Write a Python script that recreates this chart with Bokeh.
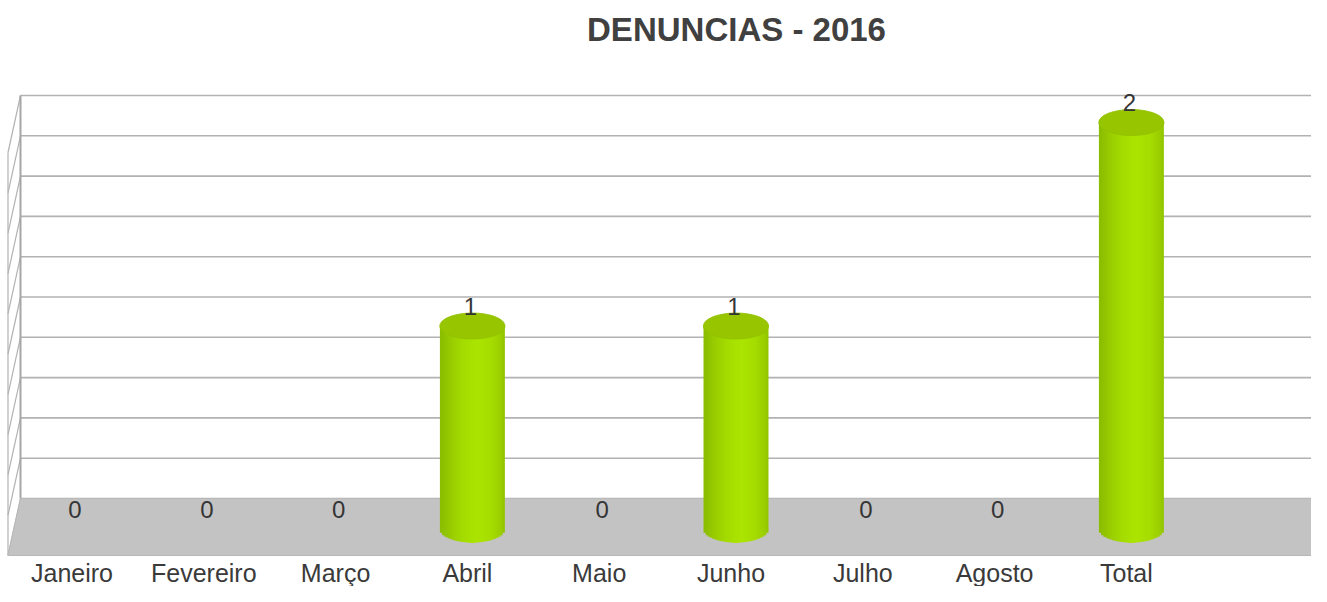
from bokeh.plotting import figure
from bokeh.models import Range1d
from bokeh.core.properties import value
from bokeh.embed import file_html
from bokeh.resources import INLINE

# ---------------- data ----------------
title_text = "DENUNCIAS - 2016"
categories = ["Janeiro", "Fevereiro", "Março", "Abril", "Maio",
              "Junho", "Julho", "Agosto", "Total"]
counts = [0, 0, 0, 1, 0, 1, 0, 0, 2]
grid_values = [0.0, 0.2, 0.4, 0.6, 0.8, 1.0, 1.2, 1.4, 1.6, 1.8, 2.0]

# ---------------- geometry (pixel mapping) ----------------
W, H = 1311, 586
SLOT_PX = 131.8      # pixels per category slot
UNIT_PX = 203.5      # pixels per value unit (bars)
X0_REF = 5.6         # x of slot 0 left edge
BASE_REF = 529.0     # y of bar baseline
BACK_BASE_REF = 498.0
BACK_UNIT_PX = 201.5
DEPTH_DX = 12.5      # side wall slant
DEPTH_DY = 57.0


def X(ref):
    return (ref - X0_REF) / SLOT_PX


def Y(ref):
    return (BASE_REF - ref) / UNIT_PX


def back_y(v):
    return Y(BACK_BASE_REF - BACK_UNIT_PX * v)


p = figure(width=W, height=H,
           x_range=Range1d(X(0), X(W)),
           y_range=Range1d(Y(H), Y(0)),
           output_backend="svg", toolbar_location=None,
           x_axis_location=None, y_axis_location=None,
           min_border=0)
p.xgrid.visible = False
p.ygrid.visible = False
p.outline_line_color = None
p.background_fill_color = "white"
p.border_fill_color = "white"

GRID_COLOR = "#b2b2b2"
depth_y = DEPTH_DY / UNIT_PX
back_left = X(20)
front_left = X(20 - DEPTH_DX)

# back wall grid lines
n = len(grid_values)
p.segment(x0=[back_left] * n, y0=[back_y(v) for v in grid_values],
          x1=[X(1400)] * n, y1=[back_y(v) for v in grid_values],
          line_color=GRID_COLOR, line_width=1.6)
# side wall slanted lines
p.segment(x0=[back_left] * n, y0=[back_y(v) for v in grid_values],
          x1=[front_left] * n, y1=[back_y(v) - depth_y for v in grid_values],
          line_color=GRID_COLOR, line_width=1.2)
# wall edges
p.segment(x0=[back_left, front_left], y0=[back_y(grid_values[0]), back_y(grid_values[-1]) - depth_y],
          x1=[back_left, front_left], y1=[back_y(grid_values[-1]), back_y(grid_values[0]) - depth_y],
          line_color=["#a6a6a6", GRID_COLOR], line_width=[2.0, 1.2])

# floor
fb = back_y(0)
ff = back_y(0) - depth_y
p.patch([back_left, X(1400), X(1400) - DEPTH_DX / SLOT_PX, front_left],
        [fb, fb, ff, ff],
        fill_color="#c3c3c3", line_color="#b8b8b8", line_width=1)

# ---------------- cylinders ----------------
BAR_W = 0.493
ELL_H = 26.0 / UNIT_PX
BAR_SHIFT = 5.0 / SLOT_PX
profile = [(0.0, (0x8a, 0xbb, 0x00)), (0.18, (0x9a, 0xcd, 0x00)),
           (0.35, (0xa4, 0xdb, 0x00)), (0.58, (0xab, 0xe4, 0x00)),
           (0.78, (0xa6, 0xdd, 0x00)), (0.92, (0x9c, 0xd0, 0x00)),
           (1.0, (0x92, 0xc4, 0x00))]


def shade(u):
    for (u0, c0), (u1, c1) in zip(profile[:-1], profile[1:]):
        if u0 <= u <= u1:
            t = (u - u0) / (u1 - u0)
            c = [round(a + (b - a) * t) for a, b in zip(c0, c1)]
            return "#%02x%02x%02x" % tuple(c)
    return "#a0d000"


K = 30
HALF = K // 2
EPS = 0.02
sx, sw, sb, st, sc = [], [], [], [], []
ex, ey = [], []
for i, c in enumerate(counts):
    if c <= 0:
        continue
    xc = i + 0.5 + BAR_SHIFT
    left = xc - BAR_W / 2
    order = list(range(HALF)) + list(range(K - 1, HALF - 1, -1))
    for k in order:
        um = (k + 0.5) / K
        r = 2 * um - 1
        if k < HALF:
            a, b = k / K, 0.5 + EPS
        else:
            a, b = 0.5 - EPS, (k + 1) / K
        x_a = left + a * BAR_W
        x_b = left + b * BAR_W
        sx.append((x_a + x_b) / 2)
        sw.append(x_b - x_a)
        sb.append(-(ELL_H / 2) * max(0.0, 1 - r * r) ** 0.5)
        st.append(c)
        sc.append(shade(um))
    ex.append(xc)
    ey.append(c)

p.vbar(x=sx, width=sw, bottom=sb, top=st, fill_color=sc, line_color=None)
p.ellipse(x=ex, y=ey, width=BAR_W * 1.005, height=ELL_H,
          fill_color="#97c600", line_color="#90bf00", line_width=0.8)

# ---------------- texts ----------------
LABEL_SHIFT = 3.0 / SLOT_PX
p.text(x=[i + 0.5 + LABEL_SHIFT for i in range(len(counts))], y=counts,
       text=[str(c) for c in counts], y_offset=-20,
       text_align="center", text_baseline="middle",
       text_font=value("Liberation Sans"), text_font_size="24px",
       text_color="#353535")

p.text(x=[i + 0.5 for i in range(len(categories))], y=[Y(572)] * len(categories),
       text=categories, text_align="center", text_baseline="middle",
       text_font=value("Liberation Sans"), text_font_size="25px",
       text_color="#3a3a3a")

p.text(x=[X(736)], y=[Y(29)], text=[title_text],
       text_align="center", text_baseline="middle",
       text_font=value("Liberation Sans"), text_font_size="33px",
       text_font_style="bold", text_color="#404040")

open("out.html", "w").write(file_html(p, INLINE))
